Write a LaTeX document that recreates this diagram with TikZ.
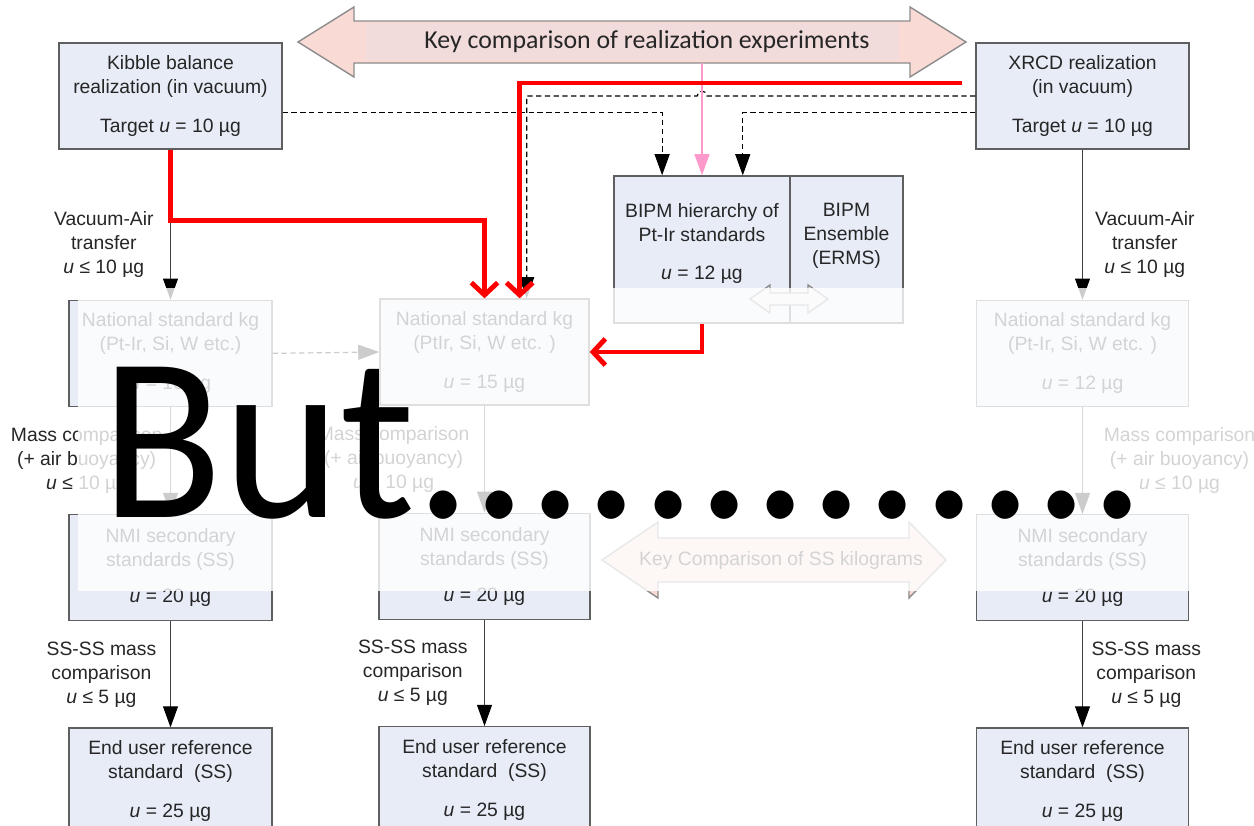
\documentclass[tikz,border=0pt]{standalone}
\usepackage{fontspec}
\setmainfont{Liberation Sans}
\newfontfamily\slidefont{Carlito}
\usepackage{xcolor}
\usepackage{graphicx}
\usetikzlibrary{positioning, arrows.meta, calc}
\definecolor{boxfill}{RGB}{231,236,247}
\definecolor{boxline}{RGB}{95,95,95}
\definecolor{kcfill}{RGB}{249,218,213}
\definecolor{kcband}{RGB}{241,220,219}
\definecolor{kcline}{RGB}{140,140,140}
\definecolor{linkpink}{RGB}{255,153,204}
\tikzstyle{arrow} = [draw=black!75, line width=0.6pt, -{Triangle[length=12pt,width=8.5pt,color=black]}]
\tikzstyle{dasharrow} = [draw=black, line width=0.7pt, dash pattern=on 3pt off 2pt, -{Triangle[length=12pt,width=8.5pt,color=black]}]
\tikzstyle{pinkarrow} = [draw=linkpink, line width=0.8pt, -{Triangle[length=12pt,width=8.5pt]}]
\tikzstyle{redarrow} = [draw=red, line width=2.8pt, -{Straight Barb[length=7pt,width=15pt]}]

\begin{document}
\begin{tikzpicture}[x=0.02cm, y=-0.02cm]
    \tikzstyle{stdbox} = [rectangle, draw=boxline, line width=0.8pt, fill=boxfill, minimum height=2.12cm, inner sep=0pt, align=center, text=black!85, font=\fontsize{11}{13.6}\selectfont]
    \tikzstyle{note} = [align=center, text=black!85, font=\fontsize{11}{13.6}\selectfont]
    \tikzstyle{kcarrow} = [fill=kcfill, draw=kcline, line width=0.8pt]

    \clip (0,0) rectangle (1254,825);
    \fill[white] (0,0) rectangle (1254,825);

    % key comparison of realizations
    \filldraw[kcarrow] (298,42) -- (354,7) -- (354,21) -- (910,21) -- (910,7) -- (966,42)
        -- (910,77) -- (910,63) -- (354,63) -- (354,77) -- cycle;
    \fill[kcband] (366,23) rectangle (899,60);
    \node[text=black!85, font=\slidefont\fontsize{14.7}{17}\selectfont] (kcrx) at (647,42) {Key comparison of realization experiments};
    \coordinate (kcrxbot) at (702,63);

    % realizations
    \node[stdbox, minimum width=4.46cm] (kibble) at (170.5,96) {Kibble balance\\realization (in vacuum)\\[8.5pt]Target \textit{u} = 10 µg};
    \node[stdbox, minimum width=4.26cm] (xrcd) at (1082.5,96) {XRCD realization\\(in vacuum)\\[8.5pt]Target \textit{u} = 10 µg};

    % BIPM
    \node[stdbox, minimum width=3.52cm, minimum height=2.94cm,
        label={[note, yshift=3.4pt]center:{BIPM hierarchy of\\Pt-Ir standards\\[8.5pt]\textit{u} = 12 µg}}] (bipml) at (702,249.5) {};
    \node[stdbox, minimum width=2.26cm, minimum height=2.94cm, right=-0.8pt of bipml,
        label={[note, yshift=7.7pt]center:{BIPM\\Ensemble\\(ERMS)}}] (bipmr) {};
    \filldraw[fill=black!8, draw=kcline, line width=0.8pt] (750,299) -- (770,285) -- (770,293) -- (808,293) -- (808,285)
        -- (828,299) -- (808,313) -- (808,305) -- (770,305) -- (770,313) -- cycle;

    % national standards
    \node[stdbox, minimum width=4.06cm, below=3cm of kibble] (natl) {National standard kg\\(Pt-Ir, Si, W etc.)\\[8.5pt]\textit{u} = 10 µg};
    \node[stdbox, minimum width=4.18cm] (natm) at (484.5,352) {National standard kg\\(PtIr, Si, W etc. )\\[8.5pt]\textit{u} = 15 µg};
    \node[stdbox, minimum width=4.24cm, below=3cm of xrcd] (natr) {National standard kg\\(Pt-Ir, Si, W etc. )\\[8.5pt]\textit{u} = 12 µg};

    % NMI secondary standards
    \node[stdbox, minimum width=4.06cm, below=2.14cm of natl] (nmil) {NMI secondary\\standards (SS)\\[7pt]\textit{u} = 20 µg};
    \node[stdbox, minimum width=4.22cm, below=2.14cm of natm] (nmim) {NMI secondary\\standards (SS)\\[7pt]\textit{u} = 20 µg};
    \node[stdbox, minimum width=4.24cm, below=2.14cm of natr] (nmir) {NMI secondary\\standards (SS)\\[7pt]\textit{u} = 20 µg};

    % end users
    \node[stdbox, minimum width=4.06cm, below=2.12cm of nmil] (endl) {End user reference\\standard\ \ (SS)\\[8.5pt]\textit{u} = 25 µg};
    \node[stdbox, minimum width=4.22cm, below=2.12cm of nmim] (endm) {End user reference\\standard\ \ (SS)\\[8.5pt]\textit{u} = 25 µg};
    \node[stdbox, minimum width=4.24cm, below=2.12cm of nmir] (endr) {End user reference\\standard\ \ (SS)\\[8.5pt]\textit{u} = 25 µg};

    % key comparison of SS
    \filldraw[kcarrow] (602,560) -- (658,522) -- (658,538) -- (909,538) -- (909,522) -- (946,560)
        -- (909,598) -- (909,582) -- (658,582) -- (658,598) -- cycle;
    \node[note] (kcss) at (781,560) {Key Comparison of SS kilograms};

    \draw[arrow] (kibble.south) -- node[note, pos=0.63, left=6pt] {Vacuum-Air\\transfer\\\textit{u} ≤ 10 µg} (natl.north);
    \draw[arrow] (xrcd.south) -- node[note, pos=0.63, right=3.5pt] {Vacuum-Air\\transfer\\\textit{u} ≤ 10 µg} (natr.north);
    \draw[arrow] (natl.south) -- node[note, left=1pt] {Mass comparison\\(+ air buoyancy)\\\textit{u} ≤ 10 µg} (nmil.north);
    \draw[arrow] (natm.south) -- node[note, left=5pt] {Mass comparison\\(+ air buoyancy)\\\textit{u} ≤ 10 µg} (nmim.north);
    \draw[arrow] (natr.south) -- node[note, right=8.5pt] {Mass comparison\\(+ air buoyancy)\\\textit{u} ≤ 10 µg} (nmir.north);
    \draw[arrow] (nmil.south) -- node[note, left=4.5pt] {SS-SS mass\\comparison\\\textit{u} ≤ 5 µg} (endl.north);
    \draw[arrow] (nmim.south) -- node[note, left=6pt] {SS-SS mass\\comparison\\\textit{u} ≤ 5 µg} (endm.north);
    \draw[arrow] (nmir.south) -- node[note, right=1.5pt] {SS-SS mass\\comparison\\\textit{u} ≤ 5 µg} (endr.north);

    \draw[dasharrow] (natl.east) -- (natm.west);
    \draw[dasharrow] ([yshift=-9.6pt]kibble.east) -| ([xshift=-22.7pt]bipml.north);
    \draw[dasharrow] ([yshift=-9.6pt]xrcd.west) -| ([xshift=23.2pt]bipml.north);
    \draw[dasharrow] (xrcd.west) -- (707,96) arc[start angle=0, end angle=180, radius=2.8pt] -| ([xshift=24pt]natm.north);
    \draw[pinkarrow] (kcrxbot) -- (bipml.north);

    % fade
    \fill[white, opacity=0.8] (78,288) rectangle (1254,591);

    \draw[redarrow] (kibble.south) -- ++(0,71) -| (natm.north);
    \draw[redarrow] ([xshift=-7.4pt,yshift=7.4pt]xrcd.west) -| ([xshift=20pt]natm.north);
    \draw[redarrow] (bipml.south) |- (natm.east);

    \node[anchor=base west, inner sep=0pt, font=\slidefont\fontsize{127}{135}\selectfont] (but) at (101.5,517) {\scalebox{1}[1.05]{But.............}};
\end{tikzpicture}
\end{document}
